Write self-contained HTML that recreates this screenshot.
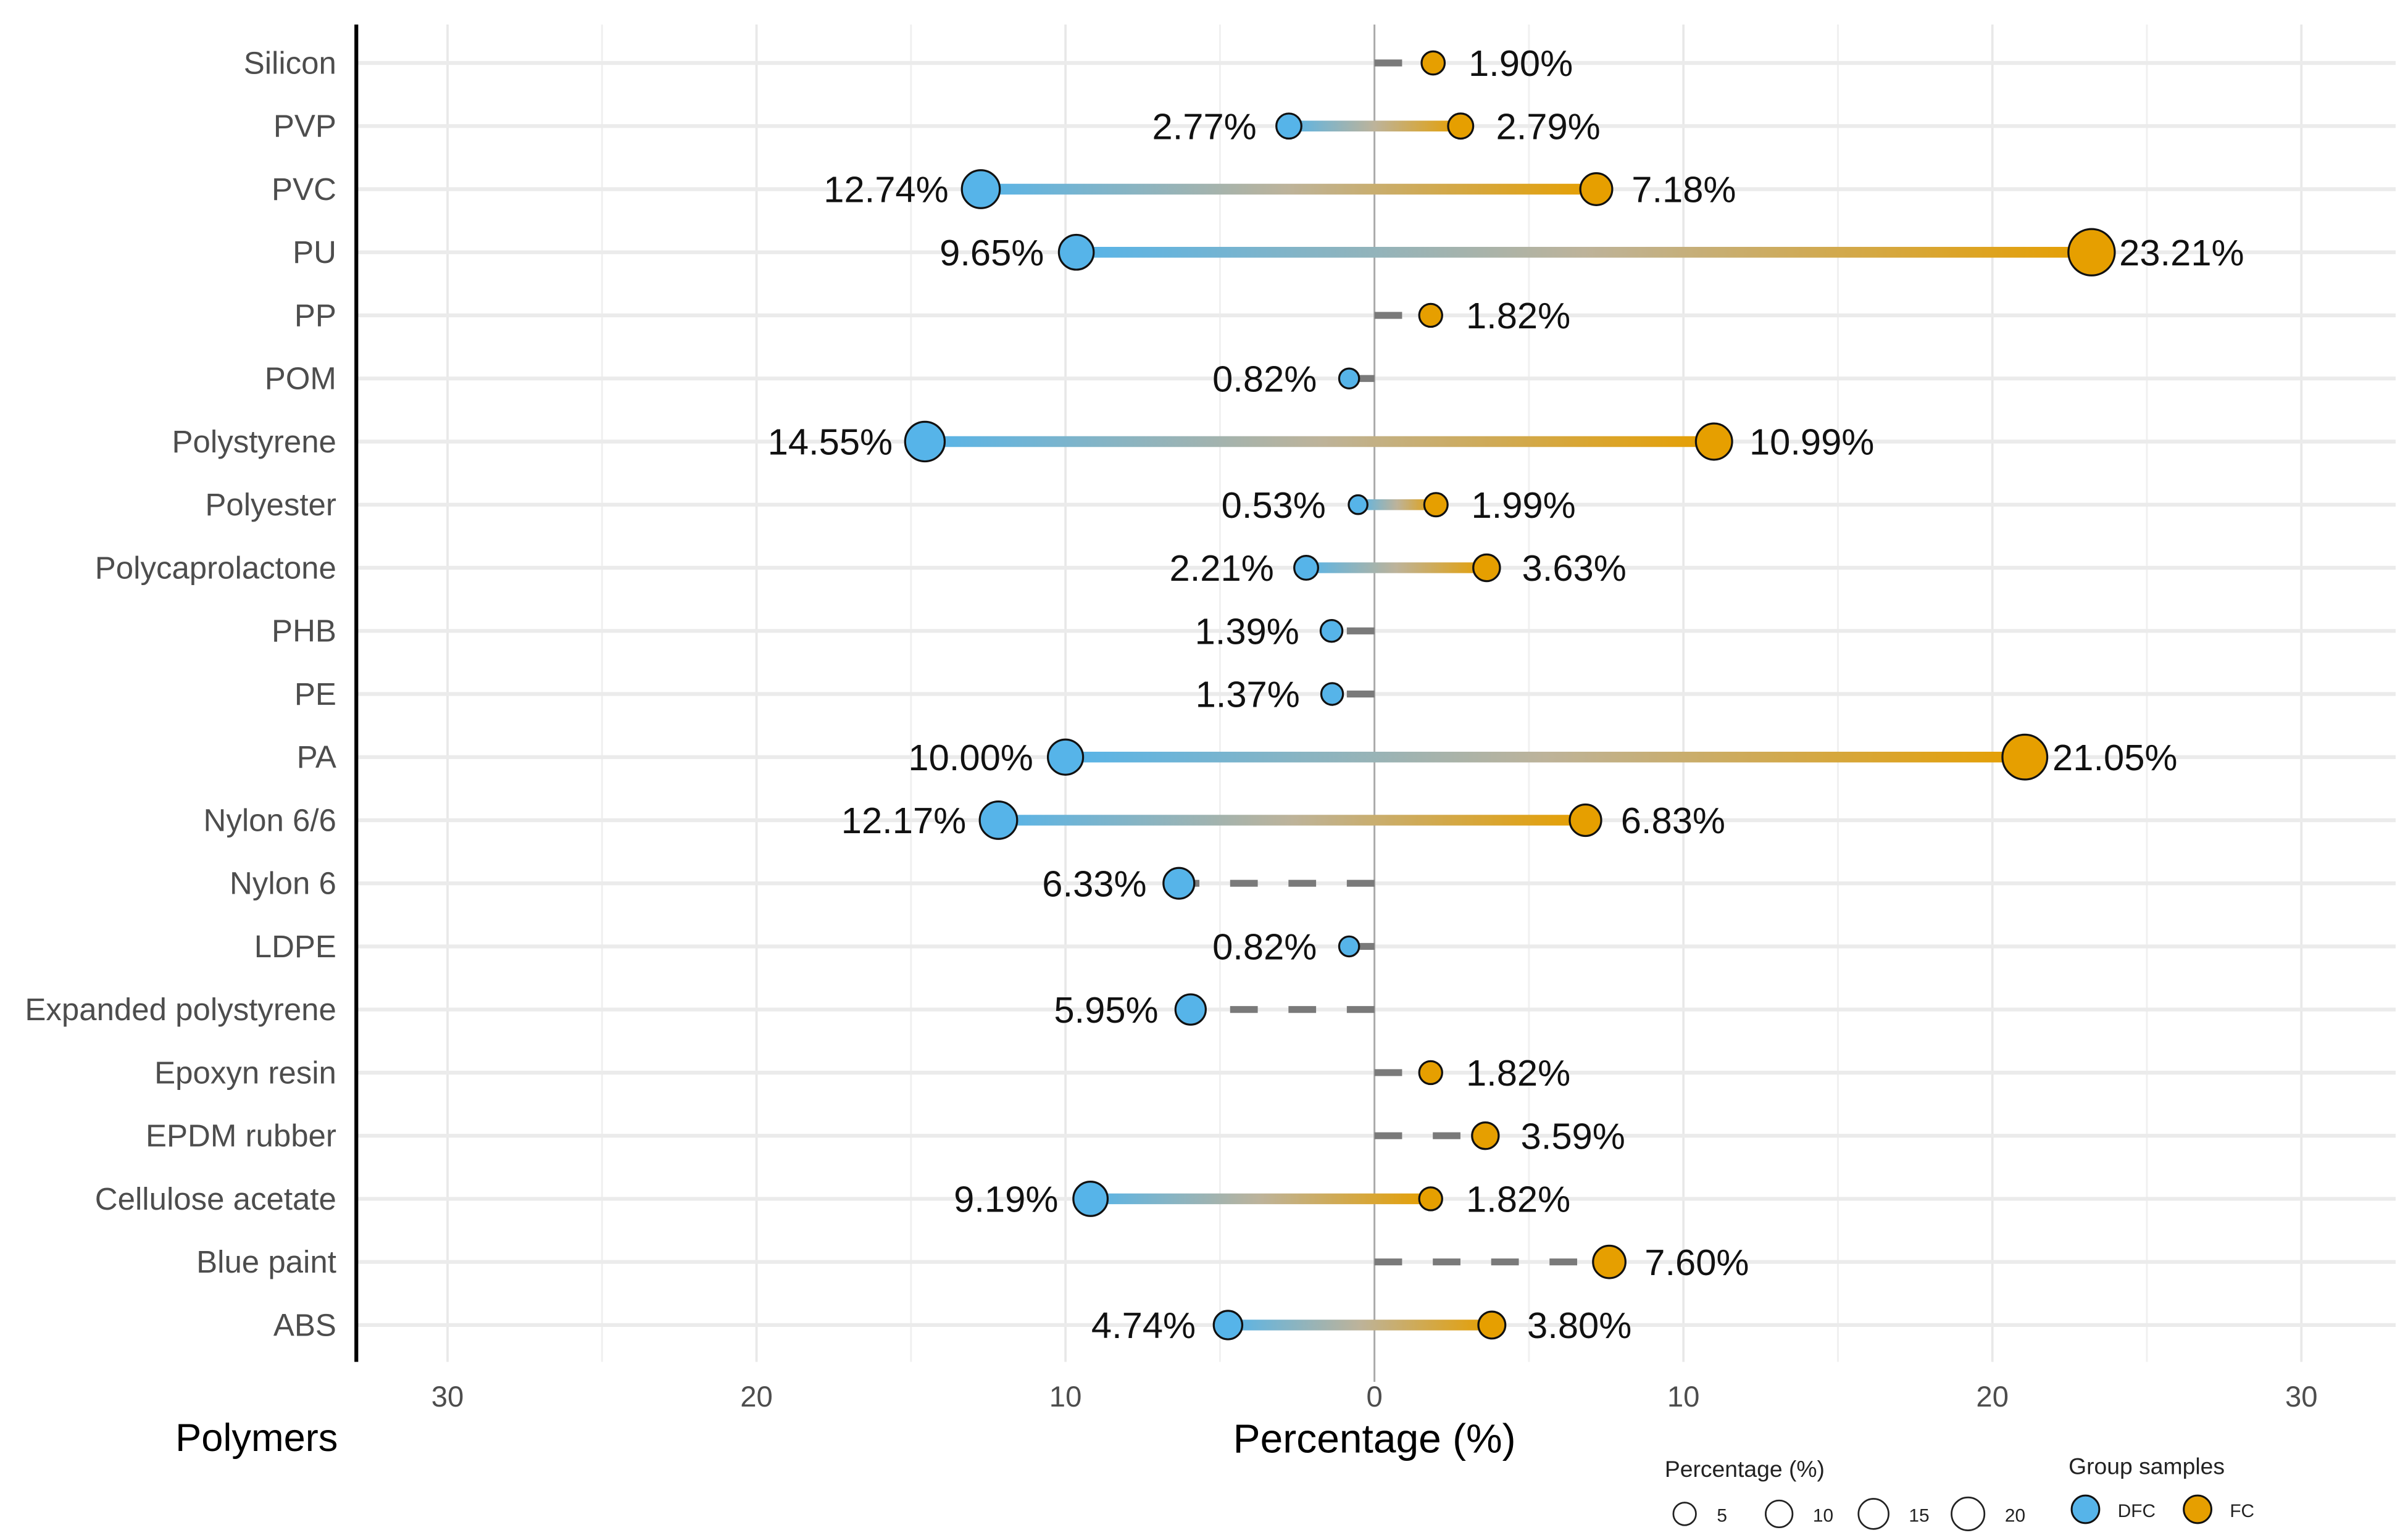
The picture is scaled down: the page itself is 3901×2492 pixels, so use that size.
<!DOCTYPE html>
<html><head><meta charset="utf-8"><style>
html,body{margin:0;padding:0;background:#fff}
svg{display:block}
text{font-family:"Liberation Sans",sans-serif}
</style></head><body>
<svg id="chart" xmlns="http://www.w3.org/2000/svg" width="3901" height="2492" viewBox="0 0 1568 1001.7">
<defs id="defs"></defs>
<rect width="1568" height="1002" fill="#fff"/>
<g id="grid"></g>
<g id="lines"></g>
<g id="pts"></g>
<g id="labels"></g>
<line x1="232" y1="16" x2="232" y2="887" stroke="#000" stroke-width="2.5"/>
<text x="220" y="945" font-size="25.4" text-anchor="end" fill="#000">Polymers</text>
<text x="895" y="946" font-size="26.5" text-anchor="middle" fill="#000">Percentage (%)</text>
<g>
<text x="1084" y="962" font-size="15" fill="#222">Percentage (%)</text>
<g id="sizeleg"></g>
</g>
<g>
<text x="1347" y="960" font-size="15" fill="#222">Group samples</text>
<circle cx="1358" cy="983" r="9" fill="#56B4E9" stroke="#111" stroke-width="1.2"/>
<text x="1379" y="988" font-size="12" fill="#222">DFC</text>
<circle cx="1431" cy="983" r="9" fill="#E69F00" stroke="#111" stroke-width="1.2"/>
<text x="1452" y="988" font-size="12" fill="#222">FC</text>
</g>
</svg>
<script>
const categories=["Silicon","PVP","PVC","PU","PP","POM","Polystyrene","Polyester","Polycaprolactone","PHB","PE","PA","Nylon 6/6","Nylon 6","LDPE","Expanded polystyrene","Epoxyn resin","EPDM rubber","Cellulose acetate","Blue paint","ABS"];
const dfcValues=[0,2.77,12.74,9.65,0,0.82,14.55,0.53,2.21,1.39,1.37,10.00,12.17,6.33,0.82,5.95,0,0,9.19,0,4.74];
const fcValues=[1.90,2.79,7.18,23.21,1.82,0,10.99,1.99,3.63,0,0,21.05,6.83,0,0,0,1.82,3.59,1.82,7.60,3.80];
const xTicks=[-30,-20,-10,0,10,20,30];
const xTickLabels=["30","20","10","0","10","20","30"];
const minorTicks=[-25,-15,-5,5,15,25];
const sizeLegendValues=[5,10,15,20];

const NS="http://www.w3.org/2000/svg";
const x=v=>895+v*20.12;
const y=i=>41+i*41.1;
const r=v=>4.5+Math.sqrt(v)*2.2;
function mk(tag,attrs,parent){const e=document.createElementNS(NS,tag);for(const k in attrs)e.setAttribute(k,attrs[k]);parent.appendChild(e);return e;}
const grid=document.getElementById('grid'),lines=document.getElementById('lines'),pts=document.getElementById('pts'),labels=document.getElementById('labels'),defs=document.getElementById('defs');

minorTicks.forEach(t=>{const e=mk('line',{x1:x(t),x2:x(t),y1:16,y2:887,stroke:'#f0f0f0','stroke-width':1.2},grid);

});
xTicks.forEach((t,i)=>{
 if(t!==0){const e=mk('line',{x1:x(t),x2:x(t),y1:16,y2:887,stroke:'#e8e8e8','stroke-width':1.5},grid);
 
 }
 const tl=mk('text',{x:x(t),y:916,'font-size':19,'text-anchor':'middle',fill:'#4d4d4d'},grid);tl.textContent=xTickLabels[i];
 
 
});
categories.forEach((c,i)=>{
 const g=mk('line',{x1:232,x2:1560,y1:y(i),y2:y(i),stroke:'#ebebeb','stroke-width':2.5},grid);
 
 
 const t=mk('text',{x:219,y:y(i)+7,'font-size':20.5,'text-anchor':'end',fill:'#4d4d4d'},grid);t.textContent=c;
 
 
});
const zl=mk('line',{x1:x(0),x2:x(0),y1:16,y2:900,stroke:'#aaaaaa','stroke-width':1.2},grid);



categories.forEach((c,i)=>{
 const d=dfcValues[i],f=fcValues[i],yy=y(i);
 if(d>0&&f>0){
  const gid='g'+i;
  const lg=mk('linearGradient',{id:gid,gradientUnits:'userSpaceOnUse',x1:x(-d),x2:x(f),y1:0,y2:0},defs);
  mk('stop',{offset:'0','stop-color':'#56B4E9'},lg);
  mk('stop',{offset:'0.5','stop-color':'#bdb39a'},lg);
  mk('stop',{offset:'1','stop-color':'#E69F00'},lg);
  const l=mk('line',{x1:x(-d),x2:x(f),y1:yy,y2:yy,stroke:'url(#'+gid+')','stroke-width':7},lines);
  
  
 } else {
  const v=d>0?-d:f;
  const l=mk('line',{x1:x(0),x2:x(v),y1:yy,y2:yy,stroke:'#7a7a7a','stroke-width':4.5,'stroke-dasharray':'18 20'},lines);
  
  
 }
 if(d>0){
  const p=mk('circle',{cx:x(-d),cy:yy,r:r(d),fill:'#56B4E9',stroke:'#111','stroke-width':1.3},pts);
  
  
  const t=mk('text',{x:x(-d)-21,y:yy+8.5,'font-size':24,'text-anchor':'end',fill:'#111'},labels);t.textContent=d.toFixed(2)+'%';
  
  
 }
 if(f>0){
  const p=mk('circle',{cx:x(f),cy:yy,r:r(f),fill:'#E69F00',stroke:'#111','stroke-width':1.3},pts);
  
  
  const t=mk('text',{x:x(f)+(f>20?18:23),y:yy+8.5,'font-size':24,'text-anchor':'start',fill:'#111'},labels);t.textContent=f.toFixed(2)+'%';
  
  
 }
});
const sl=document.getElementById('sizeleg');
sizeLegendValues.forEach((v,i)=>{
 const cx=1097+i*61.5;
 const c=mk('circle',{cx:cx,cy:986,r:4+Math.sqrt(v)*1.5,fill:'none',stroke:'#222','stroke-width':1.1},sl);
 
 
 const t=mk('text',{x:cx+21+i*1,y:991,'font-size':12,fill:'#222'},sl);t.textContent=v;
 
 
});
</script>
</body></html>
